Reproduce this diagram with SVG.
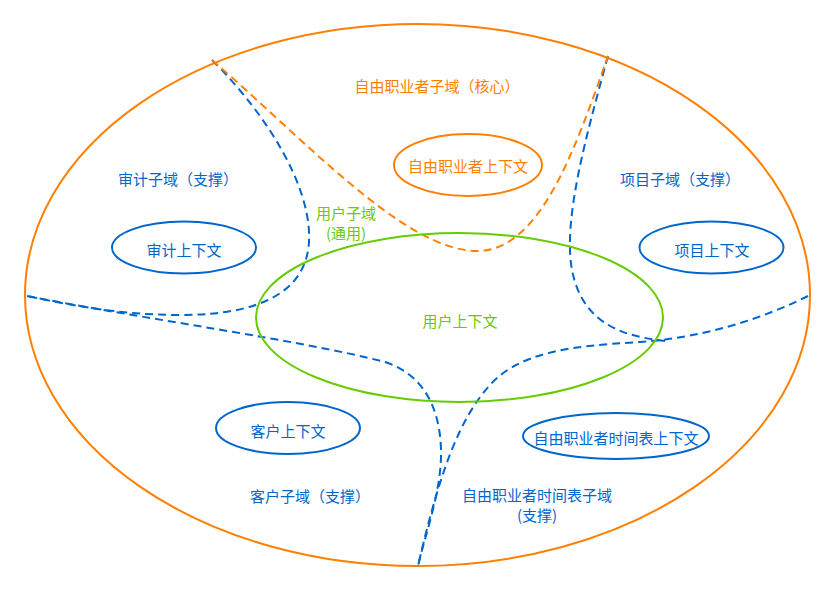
<svg xmlns="http://www.w3.org/2000/svg" width="836" height="591" viewBox="0 0 836 591">
<style>
text{font-family:"Noto Sans CJK SC","Liberation Sans",sans-serif;font-size:15px;text-anchor:middle;dominant-baseline:central}
.b{fill:#0066CC}.o{fill:#FF8000}.g{fill:#66CC00}
.eb{fill:none;stroke:#0066CC;stroke-width:2}
.eo{fill:none;stroke:#FF8000;stroke-width:2}
.eg{fill:none;stroke:#66CC00;stroke-width:2}
.db{fill:none;stroke:#0066CC;stroke-width:2;stroke-dasharray:8 5}
.do{fill:none;stroke:#FF8000;stroke-width:2;stroke-dasharray:8 5}
</style>
<rect width="836" height="591" fill="#fff"/>
<g id="outer"><ellipse class="eo" cx="417.5" cy="295" rx="392.5" ry="271"/></g>
<g id="connectors">
<path class="db" d="M212,60 C272,120 307,185 309,232 C312,292 260,315 180,315 C120,315 70,305 27,296"/>
<path class="db" d="M608,56 C585,140 563,220 572,270 C582,322 620,336 665,341"/>
<path class="db" d="M808,296 C760,320 700,338 640,342 C570,346 520,352 490,385 C460,418 440,470 418,566"/>
<path class="db" d="M27,296 C150,320 300,340 385,362 C425,375 440,410 441,450 C442,490 425,535 418,566"/>
<path class="do" d="M212,60 C305,140 405,251 477,251 C540,251 575,150 608,56"/>
</g>
<g id="core-domain"><text class="o" x="437" y="85">自由职业者子域（核心）</text></g>
<g id="freelancer-ctx"><ellipse class="eo" cx="468" cy="165" rx="74" ry="31"/><text class="o" x="468" y="165">自由职业者上下文</text></g>
<g id="audit-domain"><text class="b" x="178" y="178">审计子域（支撑）</text></g>
<g id="audit-ctx"><ellipse class="eb" cx="184" cy="247.5" rx="72" ry="26"/><text class="b" x="184" y="249">审计上下文</text></g>
<g id="project-domain"><text class="b" x="680" y="178">项目子域（支撑）</text></g>
<g id="project-ctx"><ellipse class="eb" cx="711.5" cy="247.5" rx="72" ry="26"/><text class="b" x="712" y="249">项目上下文</text></g>
<g id="user-domain"><text class="g" x="346" y="212">用户子域</text><text class="g" x="346" y="232">(通用)</text></g>
<g id="user-ctx"><ellipse class="eg" cx="459.5" cy="317.5" rx="203.5" ry="84.5"/><text class="g" x="460" y="320">用户上下文</text></g>
<g id="client-ctx"><ellipse class="eb" cx="288" cy="428" rx="72" ry="26"/><text class="b" x="288" y="430">客户上下文</text></g>
<g id="client-domain"><text class="b" x="310" y="495">客户子域（支撑）</text></g>
<g id="timesheet-ctx"><ellipse class="eb" cx="616" cy="436" rx="93" ry="23"/><text class="b" x="616" y="437">自由职业者时间表上下文</text></g>
<g id="timesheet-domain"><text class="b" x="537" y="494">自由职业者时间表子域</text><text class="b" x="537" y="514">(支撑)</text></g>
</svg>
